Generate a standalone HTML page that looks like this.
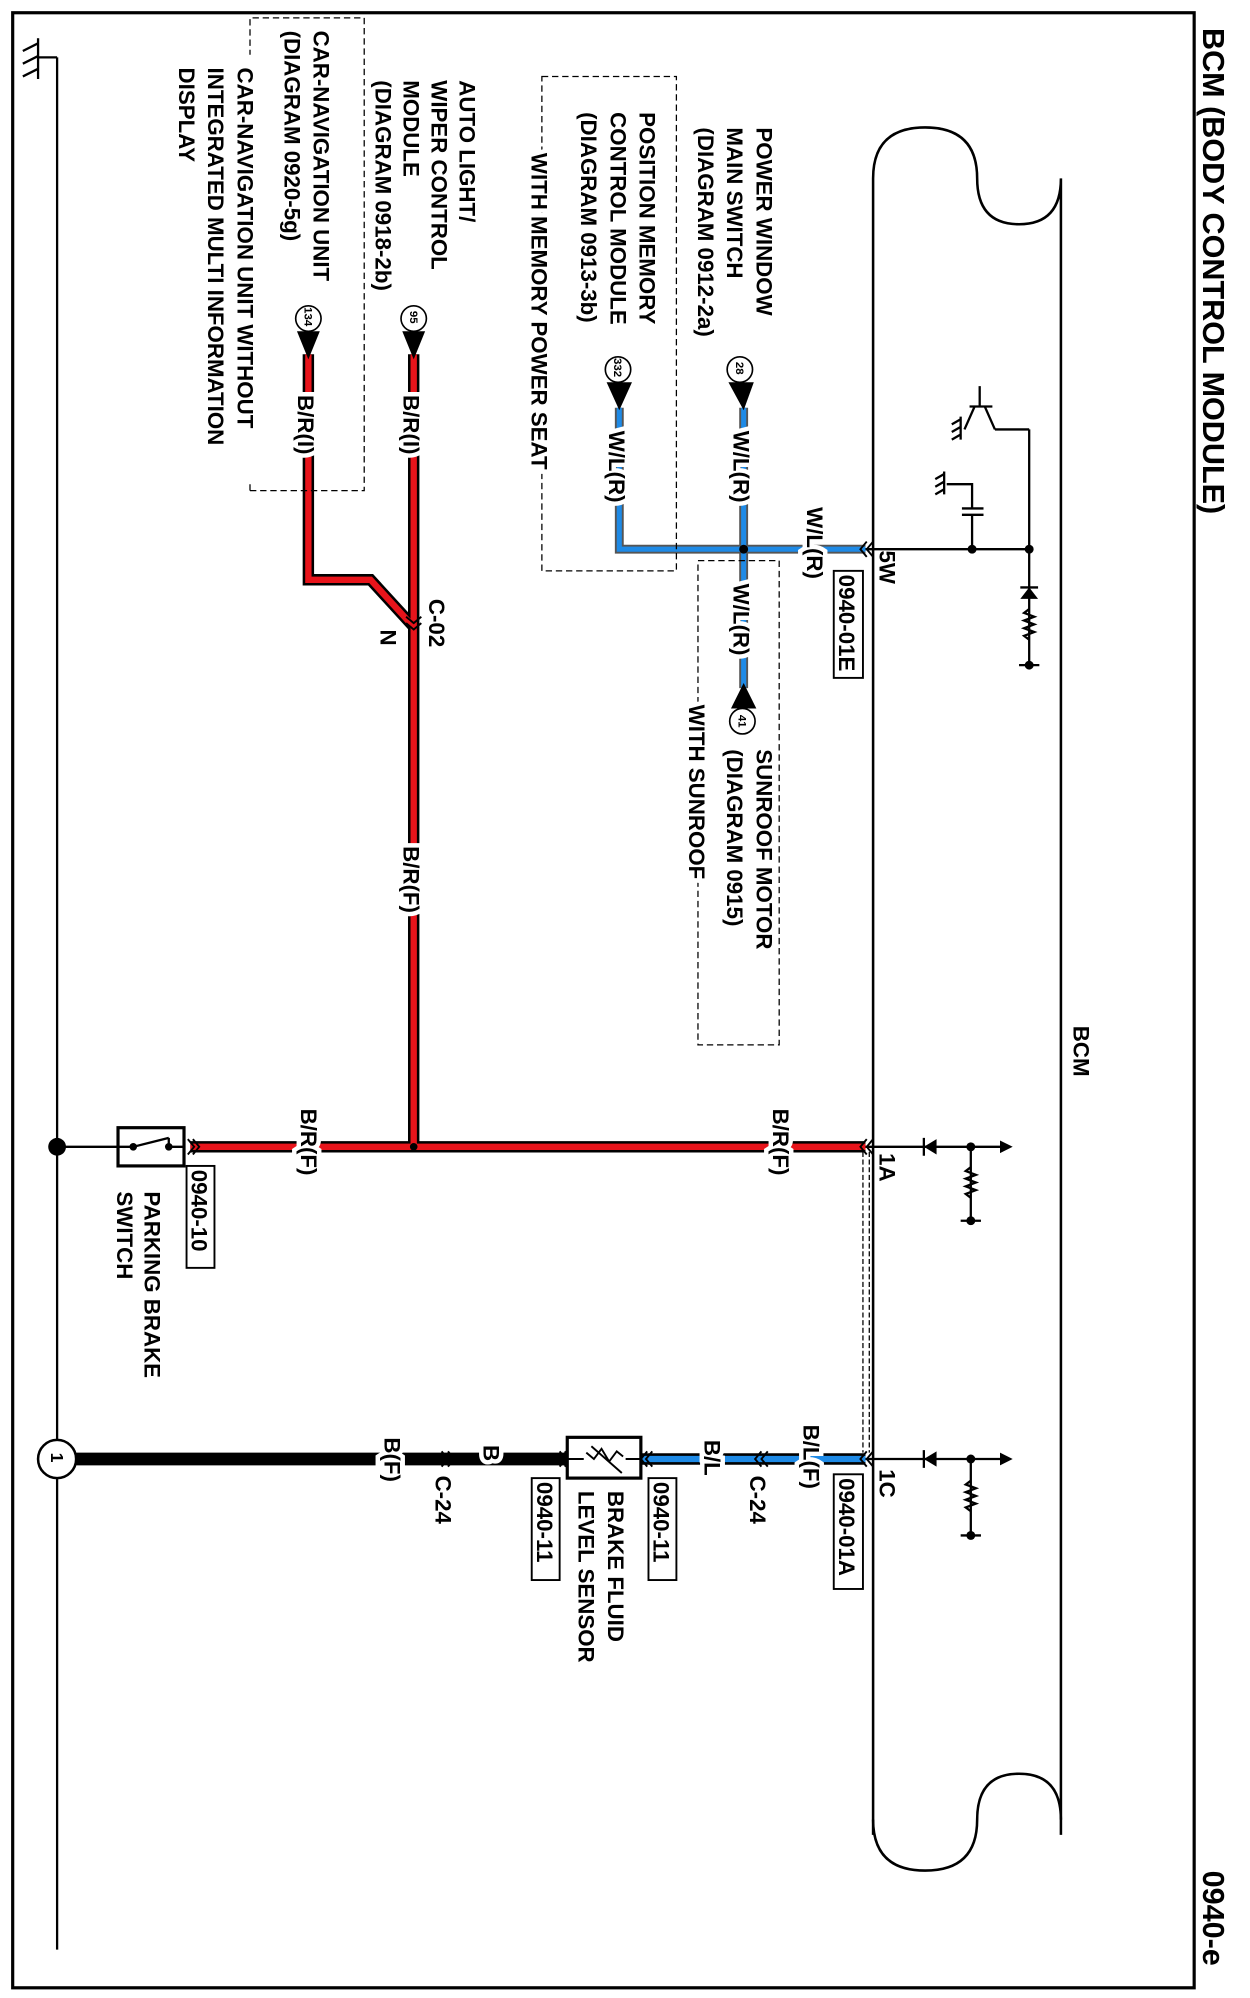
<!DOCTYPE html>
<html><head><meta charset="utf-8"><style>
html,body{margin:0;padding:0;background:#fff}
svg{display:block}
text{font-family:"Liberation Sans",Arial,sans-serif;fill:#000;font-weight:bold}
.t{font-size:17.5px}
.w{stroke:#fff;stroke-width:7px;paint-order:stroke}
</style></head><body>
<svg width="1250" height="1998" viewBox="0 0 985 1568" preserveAspectRatio="none" xmlns="http://www.w3.org/2000/svg">
<rect x="0" y="0" width="985" height="1568" fill="#fff"/>
<rect x="10" y="10" width="931" height="1550" fill="none" stroke="#000" stroke-width="2.5"/>

<!-- titles -->
<text transform="translate(948,22) rotate(90)" font-size="24">BCM (BODY CONTROL MODULE)</text>
<text transform="translate(948,1468) rotate(90)" font-size="24">0940-e</text>
<text transform="translate(846,805) rotate(90)" class="t">BCM</text>

<!-- ground bus -->
<g stroke="#000" stroke-width="1.8" fill="none">
<path d="M45,45 V1530"/>
<path d="M30,45 H45"/>
<path d="M30,30 V62"/>
<path d="M30,34 L18,40 M30,44 L18,50 M30,54 L18,60"/>
</g>

<!-- BCM body -->
<g stroke="#000" stroke-width="2" fill="none">
<path d="M688,1440 V140 Q688,100 729,100 Q770,100 770,140 Q770,176 803,176 Q836,176 836,140 V1440"/>
<path d="M688,1428 Q688,1468 729,1468 Q770,1468 770,1428 Q770,1392 803,1392 Q836,1392 836,1428"/>
</g>

<!-- internal circuit top -->
<g stroke="#000" stroke-width="1.8" fill="none">
<path d="M682,431 H811 M811,337 V522"/>
<path d="M784,337 H811 M784,337 L776,319 M764,319 H782 M772,303 V319 M768,319 L760,337"/>
<path d="M757,327 V345 M757,329 L750,333 M757,335 L750,339 M757,341 L750,345"/>
<path d="M766,431 V404 M758,404 H775 M758,399 H775 M766,399 V380 H746"/>
<path d="M744,370 V388 M744,372 L737,376 M744,378 L737,382 M744,384 L737,388"/>
<path d="M811,478 l-4,3 l8,3 l-8,3 l8,3 l-8,3 l8,3 l-8,3 l4,3"/>
<path d="M803,522 H819"/>
<path d="M804,461 H818"/>
</g>
<polygon points="804,470 818,470 811,461" fill="#000"/>
<circle cx="766" cy="431" r="3.5"/><circle cx="811" cy="431" r="3.5"/><circle cx="811" cy="522" r="3.5"/>

<!-- internal 1A / 1C -->
<g stroke="#000" stroke-width="1.8" fill="none">
<path d="M682,900 H792 M728,893 V907 M765,900 V958 M757,958 H773"/>
<path d="M765,916 l-4,3 l8,3 l-8,3 l8,3 l-8,3 l8,3 l-8,3 l4,3"/>
<path d="M682,1145 H792 M728,1138 V1152 M765,1145 V1205 M757,1205 H773"/>
<path d="M765,1162 l-4,3 l8,3 l-8,3 l8,3 l-8,3 l8,3 l-8,3 l4,3"/>
</g>
<polygon points="728,900 738,894 738,906" fill="#000"/>
<polygon points="728,1145 738,1139 738,1151" fill="#000"/>
<polygon points="798,900 788,895 788,905" fill="#000"/>
<polygon points="798,1145 788,1140 788,1150" fill="#000"/>
<circle cx="765" cy="900" r="3.5"/><circle cx="765" cy="958" r="3.5"/>
<circle cx="765" cy="1145" r="3.5"/><circle cx="765" cy="1205" r="3.5"/>

<!-- dashed link between 1A and 1C -->
<path d="M680,904 V1140 M685,904 V1140" stroke="#000" stroke-width="1" stroke-dasharray="4,2" fill="none"/>

<!-- wires -->
<g fill="none" stroke-linejoin="miter">
<path d="M326,278 V900 M243,278 V455 H292 L326,492 M150,900 H682" stroke="#000" stroke-width="9"/>
<path d="M326,278 V900 M243,278 V455 H292 L326,492 M150,900 H682" stroke="#e8141b" stroke-width="5"/>
<path d="M682,431 H488 V320 M586,320 V540" stroke="#555" stroke-width="7"/>
<path d="M682,431 H488 V320 M586,320 V540" stroke="#1e8ae6" stroke-width="4"/>
<path d="M682,1145 H505" stroke="#000" stroke-width="9"/>
<path d="M682,1145 H505" stroke="#1e8ae6" stroke-width="5"/>
<path d="M60,1145 H447" stroke="#000" stroke-width="10"/>
<path d="M45,900 H93" stroke="#000" stroke-width="1.8"/>
</g>
<circle cx="586" cy="431" r="3.5"/>
<circle cx="326" cy="900" r="3"/>
<circle cx="45" cy="900" r="7"/>

<!-- connector chevrons -->
<g stroke="#000" stroke-width="1.5" fill="none">
<path d="M683,425 l-5,6 l5,6 M688,425 l-5,6 l5,6"/>
<path d="M683,894 l-5,6 l5,6 M688,894 l-5,6 l5,6"/>
<path d="M683,1139 l-5,6 l5,6 M688,1139 l-5,6 l5,6"/>
<path d="M320,484 l6,5 l6,-5 M320,489 l6,5 l6,-5"/>
<path d="M148,894 l5,6 l-5,6 M152,894 l5,6 l-5,6"/>
<path d="M600,1139 l-5,6 l5,6 M605,1139 l-5,6 l5,6"/>
<path d="M353,1139 l5,6 l-5,6 M348,1139 l5,6 l-5,6"/>
<path d="M510,1139 l-5,6 l5,6 M514,1139 l-5,6 l5,6"/>
<path d="M441,1139 l5,6 l-5,6 M445,1139 l5,6 l-5,6"/>
</g>

<!-- pins -->
<g stroke="#000" stroke-width="1.3" fill="#fff">
<circle cx="583" cy="290" r="10"/><circle cx="487" cy="290" r="10"/>
<circle cx="326" cy="250" r="10"/><circle cx="243" cy="250" r="10"/>
<circle cx="585" cy="566" r="10"/>
</g>
<polygon points="574,300 594,300 586,322" fill="#000"/>
<polygon points="478,300 498,300 488,322" fill="#000"/>
<polygon points="317,260 335,260 326,282" fill="#000"/>
<polygon points="234,260 252,260 243,282" fill="#000"/>
<polygon points="576,556 596,556 586,536" fill="#000"/>
<g font-size="9">
<text transform="translate(580,284) rotate(90)">28</text>
<text transform="translate(484,281) rotate(90)">332</text>
<text transform="translate(323,244) rotate(90)">95</text>
<text transform="translate(240,241) rotate(90)">134</text>
<text transform="translate(582,561) rotate(90)">41</text>
</g>

<!-- wire labels -->
<g class="t">
<text class="w" transform="translate(636,398) rotate(90)">W/L(R)</text>
<text class="w" transform="translate(578,338) rotate(90)">W/L(R)</text>
<text class="w" transform="translate(480,338) rotate(90)">W/L(R)</text>
<text class="w" transform="translate(578,458) rotate(90)">W/L(R)</text>
<text class="w" transform="translate(318,310) rotate(90)">B/R(I)</text>
<text class="w" transform="translate(235,310) rotate(90)">B/R(I)</text>
<text class="w" transform="translate(318,664) rotate(90)">B/R(F)</text>
<text class="w" transform="translate(609,870) rotate(90)">B/R(F)</text>
<text class="w" transform="translate(237,870) rotate(90)">B/R(F)</text>
<text class="w" transform="translate(633,1118) rotate(90)">B/L(F)</text>
<text class="w" transform="translate(555,1130) rotate(90)">B/L</text>
<text class="w" transform="translate(381,1134) rotate(90)">B</text>
<text class="w" transform="translate(303,1128) rotate(90)">B(F)</text>
<text transform="translate(693,432) rotate(90)">5W</text>
<text transform="translate(693,905) rotate(90)">1A</text>
<text transform="translate(693,1153) rotate(90)">1C</text>
<text transform="translate(338,470) rotate(90)">C-02</text>
<text transform="translate(300,494) rotate(90)">N</text>
<text transform="translate(591,1158) rotate(90)">C-24</text>
<text transform="translate(343,1158) rotate(90)">C-24</text>
</g>

<!-- boxed refs -->
<g stroke="#000" stroke-width="1.5" fill="#fff">
<rect x="657" y="448" width="23" height="84"/>
<rect x="657" y="1157" width="23" height="90"/>
<rect x="147" y="915" width="22" height="80"/>
<rect x="511" y="1160" width="22" height="80"/>
<rect x="419" y="1160" width="22" height="80"/>
</g>
<g class="t">
<text transform="translate(661,451) rotate(90)">0940-01E</text>
<text transform="translate(661,1160) rotate(90)">0940-01A</text>
<text transform="translate(151,918) rotate(90)">0940-10</text>
<text transform="translate(515,1163) rotate(90)">0940-11</text>
<text transform="translate(423,1163) rotate(90)">0940-11</text>
</g>

<!-- parking brake switch -->
<rect x="93" y="885" width="52" height="30" fill="#fff" stroke="#000" stroke-width="2.5"/>
<g stroke="#000" stroke-width="1.8" fill="none"><path d="M93,900 H105 M133,900 H145 M105,900 L133,893 M133,893 V900"/></g>
<circle cx="105" cy="900" r="3"/><circle cx="133" cy="900" r="3"/>

<!-- brake fluid sensor -->
<rect x="447" y="1128" width="58" height="32" fill="#fff" stroke="#000" stroke-width="2.5"/>
<g stroke="#000" stroke-width="1.5" fill="none"><path d="M447,1145 H460 M493,1145 H505 M462,1140 l6,5 l6,-8 l6,10 l6,-8 l5,4 M466,1135 L490,1156"/></g>

<!-- ground circle 1 -->
<circle cx="45" cy="1145" r="15" fill="#fff" stroke="#000" stroke-width="2"/>
<text transform="translate(40,1140) rotate(90)" font-size="14">1</text>

<!-- dashed boxes -->
<g stroke="#000" stroke-width="1" stroke-dasharray="5,3" fill="none">
<rect x="427" y="60" width="106" height="388"/>
<rect x="550" y="440" width="64" height="380"/>
<path d="M197,385 H287 V14 H197 V43 M197,385 V378"/>
</g>

<!-- component labels -->
<g class="t">
<text transform="translate(596,100) rotate(90)">POWER WINDOW</text>
<text transform="translate(573,100) rotate(90)">MAIN SWITCH</text>
<text transform="translate(550,100) rotate(90)">(DIAGRAM  0912-2a)</text>
<text transform="translate(504,88) rotate(90)">POSITION MEMORY</text>
<text transform="translate(481,88) rotate(90)">CONTROL MODULE</text>
<text transform="translate(458,88) rotate(90)">(DIAGRAM  0913-3b)</text>
<text class="w" transform="translate(419,120) rotate(90)">WITH MEMORY POWER SEAT</text>
<text transform="translate(362,63) rotate(90)">AUTO LIGHT/</text>
<text transform="translate(340,63) rotate(90)">WIPER CONTROL</text>
<text transform="translate(318,63) rotate(90)">MODULE</text>
<text transform="translate(296,63) rotate(90)">(DIAGRAM  0918-2b)</text>
<text transform="translate(247,24) rotate(90)">CAR-NAVIGATION UNIT</text>
<text transform="translate(224,24) rotate(90)">(DIAGRAM  0920-5g)</text>
<text class="w" transform="translate(187,53) rotate(90)">CAR-NAVIGATION UNIT WITHOUT</text>
<text transform="translate(164,53) rotate(90)">INTEGRATED MULTI INFORMATION</text>
<text transform="translate(141,53) rotate(90)">DISPLAY</text>
<text transform="translate(596,588) rotate(90)">SUNROOF MOTOR</text>
<text transform="translate(573,588) rotate(90)">(DIAGRAM  0915)</text>
<text class="w" transform="translate(543,553) rotate(90)">WITH SUNROOF</text>
<text transform="translate(114,935) rotate(90)">PARKING BRAKE</text>
<text transform="translate(92,935) rotate(90)">SWITCH</text>
<text transform="translate(479,1170) rotate(90)">BRAKE FLUID</text>
<text transform="translate(456,1170) rotate(90)">LEVEL SENSOR</text>
</g>
</svg>
</body></html>
